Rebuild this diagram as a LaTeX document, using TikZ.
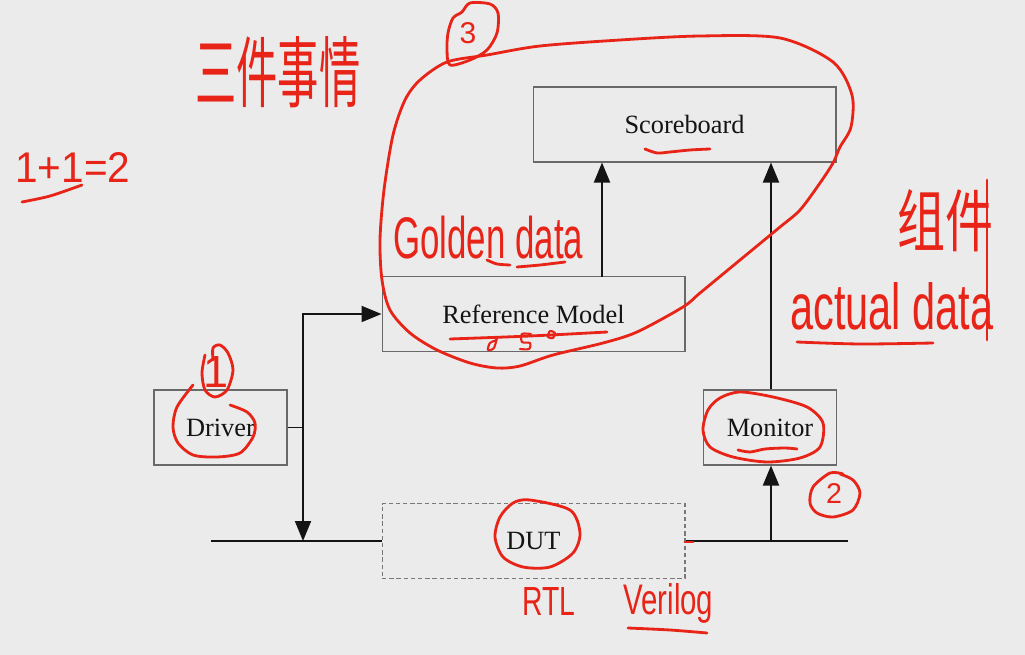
\documentclass[tikz,border=0pt]{standalone}
\usepackage{fontspec}
\setmainfont{Liberation Serif}
\newfontfamily\handfont{Liberation Sans}
\newfontfamily\cjk{Noto Sans CJK SC}
\usepackage{graphicx}
\usetikzlibrary{arrows.meta}
\definecolor{bg}{RGB}{235,235,235}
\definecolor{ink}{RGB}{20,20,20}
\definecolor{boxline}{RGB}{105,105,105}
\definecolor{dashline}{RGB}{120,120,120}
\definecolor{pen}{RGB}{232,36,24}
\tikzset{
 blk/.style={draw=boxline, line width=0.6pt, inner sep=0pt, minimum height=1.5cm, font=\fontsize{15}{18}\selectfont, text=ink},
 wide/.style={blk, minimum width=6.06cm},
 narrow/.style={blk, minimum width=2.66cm},
 dutbox/.style={wide, draw=dashline, dash pattern=on 2.5pt off 1.6pt},
 wire/.style={draw=ink, line width=1.1pt},
 arr/.style={wire, -{Triangle[length=0.4cm,width=0.32cm]}},
 penline/.style={draw=pen, line width=1.6pt, line cap=round, line join=round},
 hand/.style={text=pen, inner sep=0pt, font=\handfont},
}
\begin{document}
\begin{tikzpicture}[x=0.02cm,y=-0.02cm]
\fill[bg] (0,0) rectangle (1025,655);
\useasboundingbox (0,0) rectangle (1025,655);

% boxes
\node[wide]   (sb)  at (684.5,124.5) {Scoreboard};
\node[wide]   (rm)  at (533.5,314)   {Reference Model};
\node[narrow] (drv) at (220.5,427.5) {Driver};
\node[narrow] (mon) at (770,427.5)   {Monitor};
\node[dutbox] (dut) at (533.5,541)   {DUT};

% connection points
\coordinate (j)    at (303,427.5);
\coordinate (jd)   at (303,541);
\coordinate (busl) at (211,541);
\coordinate (busr) at (848,541);
\coordinate (mb)   at (771,541);
\coordinate (rmo)  at (602,277);

% wires
\draw[wire] (drv.east) -- (j);
\draw[arr] (j) |- (rm.west);
\draw[arr] (j) -- (jd);
\draw[wire] (busl) -- (dut.west);
\draw[wire] (dut.east) -- (busr);
\draw[arr] (mb) -- (mb |- mon.south);
\draw[arr] (mb |- mon.north) -- (mb |- sb.south);
\draw[arr] (rmo) -- (rmo |- sb.south);

% ---- handwritten annotations ----
\node[hand, anchor=base west] (t3) at (195,102) {\resizebox{3.3cm}{1.3cm}{\cjk 三件事情}};
\node[hand, anchor=base west] (eq) at (15,183) {\resizebox{2.3cm}{0.6cm}{1+1=2}};
\draw[penline] plot[smooth] coordinates {(22,202) (50,196) (82,185)};

% circled 3 and big loop
\node[hand] (n3) at (468,33) {\resizebox{!}{0.42cm}{3}};
\draw[penline] plot[smooth cycle] coordinates {(470,3) (490,4) (498,13) (497,33) (487,50) (470,60) (450,65) (447,50) (448,33) (453,18) (462,12)};
\draw[penline] plot[smooth cycle] coordinates {(382,280) (380,240) (384,190) (393,135) (405,100) (420,80) (447,62) (487,55) (540,46) (620,40) (700,36) (780,38) (833,62) (852,95) (851,127) (840,147) (833,163) (820,183) (800,210) (780,227) (740,260) (700,293) (683,307) (637,332) (603,343) (553,355) (520,366) (497,368) (470,363) (437,350) (410,333) (390,310)};

% Scoreboard underline
\draw[penline] plot[smooth] coordinates {(645,149) (657,153) (670,152) (690,150) (710,149)};

% Golden data
\node[hand, anchor=base west] (gd) at (393,258) {\resizebox{3.8cm}{0.85cm}{Golden data}};
\draw[penline] plot[smooth] coordinates {(487,260) (497,264) (510,265)};
\draw[penline] plot[smooth] coordinates {(517,267) (540,265) (565,262)};

% Reference Model underline and scribbles
\draw[penline] plot[smooth] coordinates {(450,339) (530,336) (607,332)};
\draw[penline, line width=1.2pt] plot[smooth] coordinates {(497,337) (494,348) (488,350) (490,343) (497,340)};
\draw[penline, line width=1.2pt] plot[smooth] coordinates {(531,334) (522,334) (522,342) (530,343) (529,349) (520,349)};
\draw[penline, line width=1.2pt] plot[smooth cycle] coordinates {(550,331) (555,333) (553,338) (548,337)};

% circled 1 and Driver loop
\node[hand] (n1) at (216,372) {\resizebox{!}{0.62cm}{1}};
\draw[penline] plot[smooth] coordinates {(213,360) (213,348) (220,345) (228,353) (233,370) (227,390) (215,397) (205,390) (202,373) (205,355)};
\draw[penline] plot[smooth] coordinates {(193,385) (177,407) (173,427) (178,443) (193,455) (217,457) (240,453) (253,437) (255,423) (247,412) (230,405)};

% Monitor loop, circled 2
\draw[penline] plot[smooth cycle] coordinates {(740,392) (773,397) (807,407) (823,423) (820,447) (800,458) (767,462) (733,457) (710,447) (703,430) (708,410) (720,398)};
\draw[penline] plot[smooth] coordinates {(738,450) (750,452) (765,449) (785,448) (797,449)};
\node[hand] (n2) at (834,494) {\resizebox{!}{0.4cm}{2}};
\draw[penline] plot[smooth] coordinates {(843,474) (830,473) (813,487) (810,503) (817,513) (833,517) (853,510) (860,493) (853,480) (840,474)};

% DUT loop
\draw[penline] plot[smooth cycle] coordinates {(530,500) (570,510) (580,533) (573,553) (550,567) (523,567) (503,557) (495,537) (500,517) (513,503)};
\draw[penline] (685,542) -- (693,542);

% actual data and 组件
\node[hand, anchor=base west] (ad) at (790,330) {\resizebox{4.06cm}{0.94cm}{actual data}};
\draw[penline] plot[smooth] coordinates {(797,342) (860,344) (933,343)};
\node[hand, anchor=south west] (zj) at (897,252) {\resizebox*{1.92cm}{1.25cm}{\cjk 组件}};
\draw[penline] (987,180) -- (987,340);

% RTL Verilog
\node[hand, anchor=base west] (rtl) at (522,615) {\resizebox{1.06cm}{0.56cm}{RTL}};
\node[hand, anchor=base west] (vl) at (623,614) {\resizebox{1.8cm}{0.62cm}{Verilog}};
\draw[penline] plot[smooth] coordinates {(628,628) (670,630) (707,633)};
\end{tikzpicture}
\end{document}
